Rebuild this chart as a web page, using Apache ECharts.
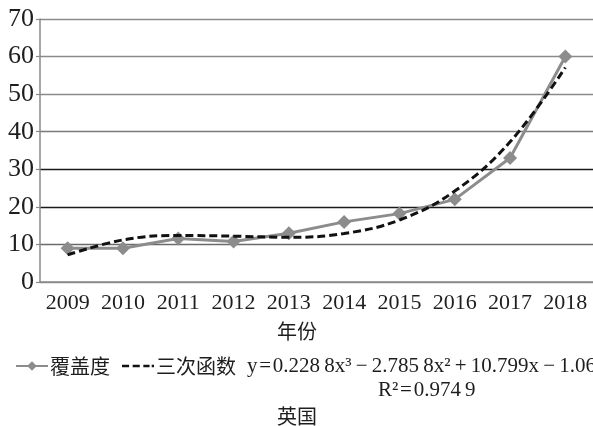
<!DOCTYPE html>
<html>
<head>
<meta charset="utf-8">
<script src="https://cdn.jsdelivr.net/npm/echarts@6/dist/echarts.min.js"></script>
<style>
  html, body { margin: 0; padding: 0; background: #fff; }
  #chart { width: 593px; height: 426px; }
</style>
</head>
<body>
<div id="chart"></div>
<script>
// Years on the category axis
const years = ['2009', '2010', '2011', '2012', '2013', '2014', '2015', '2016', '2017', '2018'];
// Coverage (覆盖度) per year
const coverage = [9, 9, 11.6, 10.8, 13, 16, 18.2, 22, 33, 60];
// Cubic trendline (三次函数) evaluated at each year
const cubicTrend = [7.2, 11.2, 12.4, 12.2, 11.9, 12.9, 16.5, 24.2, 37.3, 57.1];
// Y axis range and step
const yMin = 0, yMax = 70, yStep = 10;

const serif = '"Liberation Serif", "Times New Roman", serif';
const cjk = '"Noto Sans CJK SC", sans-serif';
const textColor = '#1e1e1e';
const thin = '\u2009';
const hair = '\u200A';

// Dashed legend key with a trailing dot; the two leading moves fix the icon box
const dashedKey = 'path://M0,0M36,12M0,4.7h8v2.6h-8zM12,4.7h8v2.6h-8zM24,4.7h7v2.6h-7zM33.4,4.7h2.6v2.6h-2.6z';

const chart = echarts.init(document.getElementById('chart'), null, { renderer: 'canvas' });

chart.setOption({
  animation: false,
  backgroundColor: '#ffffff',
  grid: { left: 40, right: 0, top: 19, bottom: 144, containLabel: false },
  xAxis: {
    type: 'category',
    data: years,
    boundaryGap: true,
    axisLine: { lineStyle: { color: '#8a8a8a', width: 1.5 } },
    axisTick: { alignWithLabel: true, length: 5, lineStyle: { color: '#8a8a8a', width: 1.2 } },
    axisLabel: { interval: 0, fontFamily: serif, fontSize: 22, color: textColor, margin: 10 },
    splitLine: { show: false }
  },
  yAxis: {
    type: 'value',
    min: yMin,
    max: yMax,
    interval: yStep,
    axisLine: { show: true, lineStyle: { color: '#8a8a8a', width: 1.5 } },
    axisTick: { show: true, length: 4, lineStyle: { color: '#8a8a8a', width: 1.2 } },
    axisLabel: { fontFamily: serif, fontSize: 26, color: textColor, margin: 6 },
    splitLine: {
      show: true,
      lineStyle: {
        color: ['#8a8a8a', '#6a6a6a', '#1a1a1a', '#1a1a1a', '#7a7a7a', '#8a8a8a', '#8a8a8a', '#8a8a8a'],
        width: 1.4
      }
    }
  },
  legend: {
    left: 10,
    top: 351,
    itemWidth: 32,
    itemHeight: 12,
    itemGap: 12,
    textStyle: { fontFamily: cjk, fontSize: 20, color: textColor, padding: [0, 0, 0, -3] },
    data: [
      { name: '覆盖度' },
      { name: '三次函数', icon: dashedKey, itemStyle: { color: '#111111' } }
    ]
  },
  graphic: [
    {
      type: 'text',
      x: 297, y: 331,
      style: { text: '年份', font: '20px ' + cjk, fill: textColor, align: 'center', verticalAlign: 'middle' }
    },
    {
      type: 'text',
      x: 247, y: 366,
      style: {
        text: 'y' + hair + '=' + hair + '0.228' + thin + '8x³' + thin + '−' + thin + '2.785' + thin + '8x²' +
              thin + '+' + thin + '10.799x' + thin + '−' + thin + '1.069',
        font: '21px ' + serif, fill: textColor, align: 'left', verticalAlign: 'middle'
      }
    },
    {
      type: 'text',
      x: 378, y: 390,
      style: {
        text: 'R²' + hair + '=' + hair + '0.974' + thin + '9',
        font: '21px ' + serif, fill: textColor, align: 'left', verticalAlign: 'middle'
      }
    },
    {
      type: 'text',
      x: 297, y: 416,
      style: { text: '英国', font: '20px ' + cjk, fill: textColor, align: 'center', verticalAlign: 'middle' }
    }
  ],
  series: [
    {
      name: '覆盖度',
      type: 'line',
      data: coverage,
      symbol: 'diamond',
      symbolSize: 14,
      itemStyle: { color: '#8c8c8c' },
      lineStyle: { color: '#8c8c8c', width: 3 },
      z: 2
    },
    {
      name: '三次函数',
      type: 'line',
      data: cubicTrend,
      smooth: 0.4,
      showSymbol: false,
      symbol: 'none',
      itemStyle: { color: '#111111' },
      lineStyle: { color: '#111111', width: 3, type: [8, 4] },
      z: 3
    }
  ]
});
</script>
</body>
</html>
